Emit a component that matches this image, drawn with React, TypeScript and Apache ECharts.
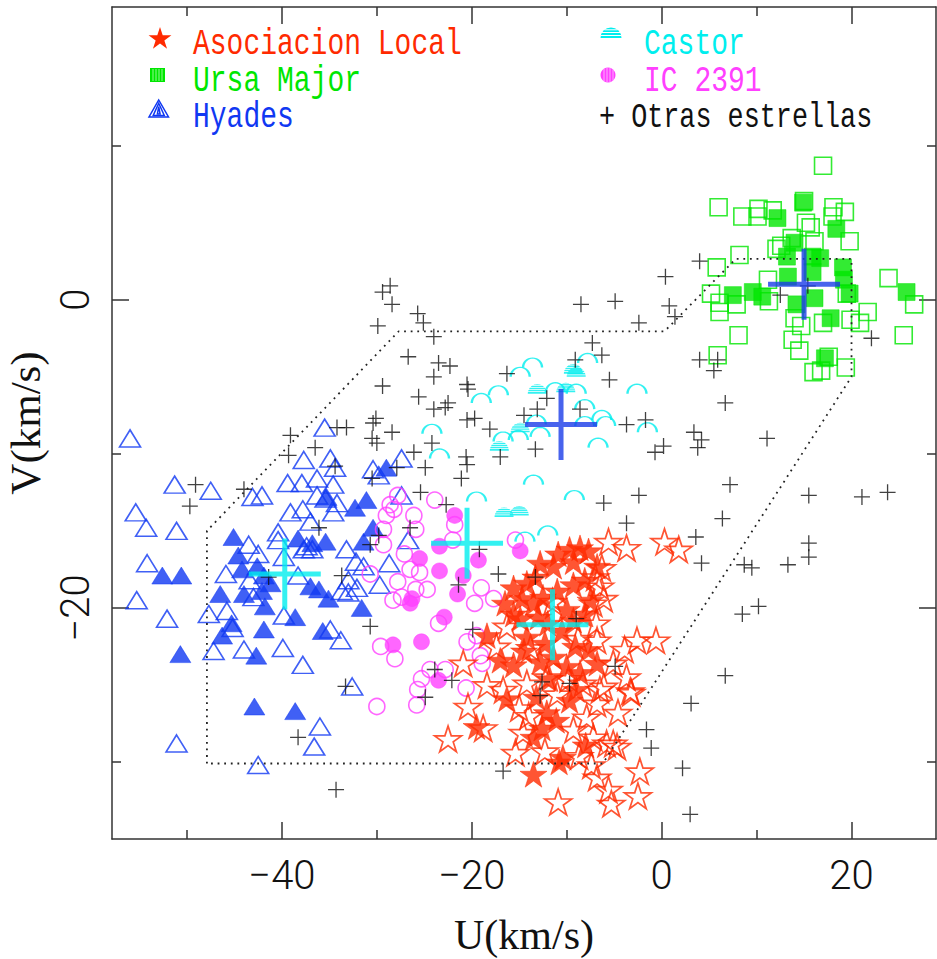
import React, { useEffect, useRef } from "react";
import * as echarts from "echarts";

// ---------- axes ----------
const uLimits = [-57.9, 28.9];
const vLimits = [-35, 19];
const uMajorTicks = [-40, -20, 0, 20];
const uMinorTicks = [-50, -30, -10, 10];
const vMajorTicks = [-20, 0];
const vMinorTicks = [-30, -10, 10];
const axisTitles = ["U(km/s)", "V(km/s)"];
const legendNames = ["Asociacion Local", "Ursa Major", "Hyades", "Castor", "IC 2391", "+ Otras estrellas"];

// ---------- data (U, V) ----------
const localFilled = [
  [-9.7, -16.2], [-8.6, -16.1], [-7.7, -16.3], [-10.9, -16.5], [-12.8, -17.1], [-11.4, -17.3], [-6.8, -17.3], [-9.3, -17.0],
  [-15.6, -18.7], [-14.2, -18.4], [-13.3, -18.0], [-14.7, -19.4], [-13.5, -19.7], [-12.5, -19.3], [-9.3, -18.5], [-8.1, -18.2],
  [-15.6, -20.4], [-14.9, -20.7], [-13.0, -20.6], [-10.0, -20.1], [-8.1, -20.4], [-18.4, -21.8], [-14.2, -21.9], [-12.3, -22.3],
  [-9.1, -22.5], [-7.7, -22.7], [-17.0, -23.4], [-15.6, -23.7], [-12.8, -23.5], [-11.4, -23.2], [-10.0, -23.8], [-8.6, -24.2],
  [-13.2, -25.8], [-9.7, -26.0], [-12.1, -26.8], [-11.1, -27.3], [-19.5, -27.7], [-13.5, -28.4], [-10.4, -29.7], [-13.5, -30.8],
  [-6.8, -23.6], [-9.3, -20.8], [-11.0, -18.9], [-10.5, -21.5], [-12.0, -21.0], [-14.5, -22.8], [-11.8, -24.6], [-16.5, -19.7],
  [-9.0, -25.3], [-12.6, -27.8], [-8.0, -28.9], [-10.8, -30.0], [-7.5, -19.5], [-16.3, -25.9]
];
const localHollow = [
  [-6.5, -18.6], [-6.1, -19.4], [-7.2, -19.7], [-16.3, -21.2], [-6.8, -22.1], [-20.9, -23.6], [-18.4, -25.0], [-16.7, -25.3],
  [-14.2, -24.9], [-20.4, -26.4], [-18.8, -27.8], [-22.5, -28.5], [-14.6, -28.1], [-8.3, -24.9], [-6.5, -25.3], [-7.9, -27.1],
  [-15.4, -29.4], [-6.8, -31.0], [-10.9, -32.6], [-12.1, -24.5], [-17.4, -22.5], [-6.8, -26.2], [-9.3, -27.9], [-7.2, -28.4],
  [-5.6, -15.7], [-3.7, -16.1], [0.3, -15.7], [1.8, -16.2], [-6.3, -17.4], [-2.6, -22.1], [-0.6, -22.1], [-3.9, -22.7],
  [-5.1, -23.6], [-3.2, -25.5], [-6.1, -25.1], [-5.1, -28.8], [-2.3, -30.6], [-2.5, -32.2], [-5.3, -32.7], [-5.6, -31.8],
  [-5.8, -28.8], [-4.7, -29.0], [-3.3, -25.4], [-3.7, -24.5], [-7.0, -18.0], [-11.5, -19.6], [-6.9, -21.0], [-13.8, -22.6],
  [-9.8, -24.6], [-11.0, -25.6], [-14.0, -27.0], [-8.7, -29.6], [-12.3, -29.3], [-7.4, -30.2], [-4.6, -26.8], [-8.8, -22.0],
  [-15.0, -26.5]
];
const ursaHollow = [
  [17.0, 8.7], [6.0, 6.0], [10.2, 5.9], [8.5, 5.4], [11.7, 5.8], [18.1, 6.0], [19.3, 5.7], [10.1, 5.4], [18.0, 5.4], [15.0, 6.4],
  [15.2, 5.0], [15.7, 4.7], [19.8, 3.8], [8.2, 2.9], [5.8, 2.1], [12.1, 3.3], [12.6, 3.5], [13.7, 4.0], [16.1, 3.8], [11.2, 1.3],
  [5.2, 0.4], [6.1, -0.2], [7.9, -0.3], [11.3, -0.1], [6.1, -0.8], [19.5, 0.4], [23.9, 1.4], [26.6, -0.3], [21.7, -0.8], [20.9, -1.5],
  [14.0, -1.2], [14.7, -1.7], [17.0, -1.5], [8.1, -2.3], [13.8, -2.6], [14.5, -3.3], [25.5, -2.3], [5.9, -3.6], [17.6, -3.7],
  [19.4, -4.4], [16.0, -4.7], [16.8, -4.6], [19.9, -1.3]
];
const ursaFilled = [
  [14.9, 6.3], [12.2, 5.3], [18.4, 4.6], [14.0, 3.7], [13.2, 2.8], [15.9, 2.8], [16.7, 2.7], [19.1, 2.1], [13.3, 1.5], [15.9, 1.8],
  [19.2, 1.3], [7.5, 0.3], [9.6, 0.5], [10.6, 0.2], [14.2, -0.3], [16.1, 0.1], [19.8, 0.4], [25.8, 0.5], [17.8, -1.2], [17.2, -3.8]
];
const hyadesHollow = [
  [-56.0, -9.0], [-51.3, -12.0], [-47.5, -12.4], [-55.4, -13.8], [-54.3, -14.8], [-51.1, -15.0], [-54.2, -17.1], [-55.3, -19.5],
  [-52.1, -20.7], [-51.1, -28.8], [-43.1, -12.8], [-42.1, -12.7], [-35.5, -8.3], [-37.7, -10.4], [-34.9, -10.3], [-39.4, -11.9],
  [-37.9, -11.9], [-36.3, -11.6], [-34.4, -10.9], [-34.6, -12.0], [-39.1, -13.8], [-37.8, -13.6], [-36.3, -12.7], [-34.6, -13.8],
  [-37.0, -14.4], [-40.4, -15.1], [-40.4, -15.6], [-43.5, -15.9], [-42.5, -16.5], [-39.8, -16.7], [-45.9, -17.8], [-43.4, -18.2],
  [-43.0, -19.3], [-38.3, -17.9], [-36.8, -16.2], [-33.2, -16.2], [-32.2, -17.0], [-31.4, -17.3], [-33.0, -18.2], [-33.0, -19.0],
  [-32.1, -18.7], [-28.7, -17.1], [-29.7, -18.5], [-47.7, -20.4], [-45.8, -20.2], [-45.2, -21.3], [-39.8, -20.5], [-34.9, -21.4],
  [-33.8, -22.1], [-47.2, -22.8], [-44.0, -22.7], [-39.9, -22.6], [-37.8, -23.7], [-32.6, -25.1], [-36.0, -27.7], [-36.6, -29.0],
  [-42.5, -30.2], [-27.4, -10.3], [-30.4, -11.0], [-29.8, -11.4], [-27.4, -12.7], [-26.7, -15.6], [-37.4, -16.0], [-35.4, -12.9],
  [-34.2, -13.2], [-33.7, -18.9], [-37.7, -16.2]
];
const hyadesFilled = [
  [-52.6, -17.9], [-50.6, -17.9], [-50.7, -23.0], [-45.1, -15.4], [-44.6, -16.6], [-44.2, -17.5], [-46.5, -19.1], [-44.0, -19.1],
  [-41.9, -17.9], [-42.1, -18.9], [-41.8, -19.9], [-45.3, -21.0], [-46.3, -21.8], [-41.9, -21.4], [-42.7, -23.1], [-38.6, -20.6],
  [-35.7, -21.5], [-38.3, -15.5], [-36.8, -15.8], [-35.4, -15.7], [-37.0, -18.6], [-36.1, -18.8], [-35.1, -19.4], [-31.6, -20.0],
  [-35.3, -12.8], [-32.3, -13.5], [-31.1, -13.0], [-30.4, -14.8], [-31.4, -15.7], [-29.0, -10.9], [-42.9, -26.4], [-38.6, -26.7],
  [-41.2, -18.4], [-42.6, -17.3]
];
const castorHollow = [
  [-13.6, -4.4], [-14.9, -5.0], [-7.8, -4.1], [-17.2, -6.2], [-19.0, -6.7], [-11.2, -6.0], [-9.0, -6.1], [-2.6, -6.1],
  [-8.1, -7.1], [-6.3, -7.8], [-5.9, -8.2], [-13.2, -8.1], [-8.1, -8.2], [-16.7, -9.2], [-15.1, -9.1], [-12.8, -8.9],
  [-24.2, -8.7], [-23.4, -10.3], [-1.5, -8.6], [-6.7, -9.6], [-13.5, -12.0], [-19.5, -13.1], [-9.2, -13.0], [-12.0, -15.3],
  [-14.4, -15.7]
];
const castorFilled = [
  [-9.3, -4.8], [-9.0, -5.0], [-13.1, -6.1], [-10.1, -6.0], [-14.9, -8.6], [-17.1, -9.8], [-16.6, -14.1], [-15.0, -14.0]
];
const icHollow = [
  [-27.8, -12.7], [-23.9, -13.0], [-28.2, -13.6], [-29.0, -14.0], [-26.1, -14.0], [-25.9, -14.9], [-29.3, -15.9], [-27.1, -16.5],
  [-22.0, -15.6], [-21.8, -14.6], [-26.5, -17.5], [-25.5, -17.7], [-30.7, -17.8], [-27.8, -18.3], [-28.3, -19.5], [-27.4, -19.3],
  [-25.9, -18.8], [-24.7, -18.8], [-19.0, -18.7], [-17.7, -19.4], [-19.7, -19.7], [-23.5, -21.0], [-29.6, -22.5], [-28.1, -23.3],
  [-20.5, -22.2], [-19.5, -21.8], [-19.1, -23.1], [-18.9, -23.6], [-24.4, -24.0], [-22.8, -24.0], [-25.3, -24.6], [-25.7, -25.3],
  [-25.8, -26.3], [-20.6, -25.2], [-30.0, -26.4], [-15.4, -15.6], [-29.3, -14.9], [-28.6, -13.3]
];
const icFilled = [
  [-21.8, -14.0], [-23.4, -16.0], [-25.5, -16.8], [-23.4, -17.6], [-19.3, -16.9], [-20.9, -17.9], [-21.5, -19.1], [-26.3, -19.4],
  [-26.5, -19.7], [-14.9, -16.3], [-22.9, -20.6], [-28.3, -22.4], [-25.3, -22.2], [-23.5, -24.7]
];
const otherStars = [
  [-28.6, 0.9], [-29.4, 0.5], [-28.4, -0.3], [-29.9, -1.7], [-25.7, -0.9], [-25.1, -1.5], [-24.0, -2.4], [-8.5, -0.3], [-4.9, -0.1],
  [0.4, 1.5], [-2.4, -1.5], [4.0, 2.5], [0.8, -0.4], [1.4, -1.1], [12.5, 0.3], [15.4, 0.9], [22.1, -2.5], [4.0, -3.9], [5.9, -3.9],
  [5.5, -4.6], [-26.7, -3.7], [-23.5, -4.1], [-22.3, -4.3], [-24.0, -5.0], [-7.3, -2.8], [-6.3, -3.6], [-9.1, -3.9], [-16.3, -4.8],
  [-5.5, -5.2], [-25.6, -6.3], [-20.5, -5.5], [-20.4, -5.8], [-22.5, -6.7], [-24.0, -7.1], [-22.8, -7.0], [-20.5, -7.8], [-19.7, -7.7],
  [-18.1, -8.4], [-12.1, -6.4], [-13.1, -7.1], [-14.5, -7.5], [-8.6, -7.1], [-3.7, -8.1], [-1.7, -7.8], [-0.7, -9.9], [0.2, -9.5],
  [-13.3, -9.7], [-17.0, -10.2], [-24.2, -9.3], [-26.1, -9.9], [-20.6, -10.2], [-20.5, -10.7], [-24.9, -10.9], [-21.1, -11.6],
  [-25.4, -12.5], [-22.7, -13.3], [-6.1, -13.2], [-2.4, -12.7], [-3.7, -14.5], [-19.2, -16.2], [-29.4, -5.6],
  [6.7, -6.7], [3.4, -8.6], [4.2, -9.1], [3.8, -9.6], [11.1, -9.0], [7.2, -12.0], [15.5, -12.7], [21.1, -12.8], [23.8, -12.5],
  [6.4, -14.2], [3.6, -15.4], [15.5, -15.8], [15.5, -16.7], [4.2, -17.1], [8.7, -17.2], [9.5, -17.4], [13.3, -17.2], [8.5, -20.4],
  [10.2, -19.9], [6.7, -24.4], [3.1, -26.2], [-1.6, -27.9], [-1.1, -29.1], [2.2, -30.4], [3.0, -33.4], [-4.9, -23.8],
  [-26.5, -14.8], [-30.7, -15.9], [-29.8, -15.3], [-17.2, -17.8], [-13.3, -18.0], [-21.4, -18.5], [-30.7, -21.2], [-19.9, -21.4],
  [-23.9, -24.0], [-22.1, -24.7], [-24.9, -25.8], [-33.3, -25.1], [-12.6, -24.8], [-9.7, -24.9], [-12.8, -25.7], [-9.0, -20.7],
  [-16.7, -30.6], [-49.1, -12.0], [-49.7, -13.4], [-44.0, -12.3], [-39.1, -8.8], [-39.3, -10.1], [-36.5, -9.6], [-34.2, -8.3],
  [-33.2, -8.3], [-30.4, -8.0], [-30.1, -7.7], [-28.4, -8.6], [-30.5, -9.0], [-30.0, -9.3], [-34.4, -10.8], [-30.5, -11.6],
  [-27.9, -10.9], [-36.1, -14.8], [-41.4, -18.0], [-33.7, -17.9], [-38.3, -28.4], [-34.3, -31.8]
];
// group means (big crosses)
const blueMeans = [[15.0, 1.0], [-10.6, -8.1]];
const cyanMeans = [[-39.7, -17.8], [-20.5, -15.8], [-11.5, -21.1]];
// dotted selection boundary
const boundary = [
  [-47.9, -30.1], [-47.9, -15.0], [-27.7, -2.05], [0.3, -2.05], [7.8, 2.65], [20.0, 2.65], [20.0, -5.0], [-6.2, -30.1], [-47.9, -30.1]
];

// ---------- styles ----------
const RED = "#ff2a00";
const GREEN = "#00e600";
const BLUE = "#1038f2";
const CYAN = "#00eeee";
const MAGENTA = "#ff40ff";
const INK = "#111111";
const AXIS = "#333333";

const STAR_PATH =
  "path://M50,0L61.23,34.55L97.55,34.55L68.17,55.9L79.39,90.45L50,69.1L20.61,90.45L31.83,55.9L2.45,34.55L38.77,34.55Z";
const PLUS_PATH = "path://M0,8H16M8,0V16";
const CROSS_PATH = "path://M0,33.5H72V38.5H0Z M33.5,0H38.5V72H33.5Z";

function arcPath(): string {
  let d = "";
  for (let i = 0; i <= 16; i++) {
    const a = Math.PI - (i * Math.PI) / 16;
    const x = 10 + 10 * Math.cos(a);
    const y = 10 - 10 * Math.sin(a);
    d += (i === 0 ? "M" : "L") + x.toFixed(2) + "," + y.toFixed(2);
  }
  return "path://" + d;
}
function domePath(): string {
  const bands = [[0, 1.7], [2.5, 4.0], [4.8, 6.3], [7.1, 8.5], [9.2, 10]];
  let d = "";
  for (const [y0, y1] of bands) {
    const left: number[][] = [];
    const right: number[][] = [];
    for (let k = 0; k <= 4; k++) {
      const y = y0 + ((y1 - y0) * k) / 4;
      const w = Math.sqrt(Math.max(0, 100 - y * y));
      left.push([10 - w, 10 - y]);
      right.push([10 + w, 10 - y]);
    }
    const pts = [...left, ...right.reverse()];
    d += "M" + pts.map((p) => p[0].toFixed(2) + "," + p[1].toFixed(2)).join("L") + "Z";
  }
  return "path://" + d;
}

const hollow = (c: string, w = 1.6) => ({ color: "rgba(0,0,0,0)", borderColor: c, borderWidth: w });
const solid = (c: string) => ({ color: c, borderColor: c, borderWidth: 0.6 });

const fmt = (v: number) => String(v).replace("-", "\u2212");
const tickFont = '"Liberation Sans Narrow", Roboto, "Liberation Sans", sans-serif';

function xAxisDef(position: string, ticks: number[], len: number, showLine: boolean, withLabels: boolean) {
  return {
    type: "value",
    position,
    min: uLimits[0],
    max: uLimits[1],
    axisLine: { show: showLine, onZero: false, lineStyle: { color: AXIS, width: 1.5 } },
    axisTick: { show: true, inside: true, length: len, customValues: ticks, lineStyle: { color: AXIS, width: 1.5 } },
    axisLabel: withLabels
      ? { show: true, customValues: uMajorTicks, formatter: fmt, margin: 16, fontSize: 40, fontWeight: 300, fontFamily: tickFont, color: INK }
      : { show: false },
    splitLine: { show: false },
    name: withLabels ? axisTitles[0] : "",
    nameLocation: "middle",
    nameGap: 78,
    nameTextStyle: { fontFamily: '"Liberation Serif", serif', fontSize: 42, lineHeight: 36, color: INK },
  };
}
function yAxisDef(position: string, ticks: number[], len: number, showLine: boolean, withLabels: boolean) {
  return {
    type: "value",
    position,
    min: vLimits[0],
    max: vLimits[1],
    axisLine: { show: showLine, onZero: false, lineStyle: { color: AXIS, width: 1.5 } },
    axisTick: { show: true, inside: true, length: len, customValues: ticks, lineStyle: { color: AXIS, width: 1.5 } },
    axisLabel: withLabels
      ? { show: true, customValues: vMajorTicks, formatter: fmt, rotate: 90, margin: 17, fontSize: 40, fontWeight: 300, fontFamily: tickFont, color: INK }
      : { show: false },
    splitLine: { show: false },
    name: withLabels ? axisTitles[1] : "",
    nameLocation: "middle",
    nameGap: 49,
    nameTextStyle: { fontFamily: '"Liberation Serif", serif', fontSize: 43, lineHeight: 40, color: INK },
  };
}

function starPoints(cx: number, cy: number, R: number) {
  const pts: number[][] = [];
  for (let i = 0; i < 10; i++) {
    const r = i % 2 === 0 ? R : R * 0.382;
    const a = -Math.PI / 2 + (i * Math.PI) / 5;
    pts.push([cx + r * Math.cos(a), cy + r * Math.sin(a)]);
  }
  return pts;
}

function legendGraphics() {
  const els: any[] = [];
  const textEl = (txt: string, x: number, y: number, color: string, size = 28) => ({
    type: "text",
    x,
    y,
    scaleY: 1.33,
    silent: true,
    style: {
      text: txt,
      fill: color,
      font: size + 'px "Liberation Mono", monospace',
      textAlign: "left",
      textVerticalAlign: "middle",
      align: "left",
      verticalAlign: "middle",
    },
  });
  // star icon
  els.push({ type: "polygon", silent: true, shape: { points: starPoints(160, 39, 12) }, style: { fill: RED } });
  // hatched square
  els.push({ type: "rect", silent: true, shape: { x: 150, y: 68, width: 15, height: 14 }, style: { fill: GREEN } });
  for (let k = 0; k < 4; k++) {
    const x = 153 + k * 3;
    els.push({ type: "line", silent: true, shape: { x1: x, y1: 69, x2: x, y2: 81 }, style: { stroke: "#b8ffb8", lineWidth: 0.8 } });
  }
  // nested triangles
  for (let k = 0; k < 3; k++) {
    const inset = k * 3;
    els.push({
      type: "polygon",
      silent: true,
      shape: { points: [[149 + inset * 1.4, 117 - inset * 0.5], [168.5 - inset * 1.4, 117 - inset * 0.5], [158.7, 100 + inset * 1.1]] },
      style: { fill: "none", stroke: BLUE, lineWidth: 1.5 },
    });
  }
  // striped dome
  els.push({
    type: "sector",
    silent: true,
    shape: { cx: 611, cy: 38, r0: 0, r: 10.5, startAngle: Math.PI, endAngle: 2 * Math.PI, clockwise: true },
    style: { fill: CYAN },
  });
  [35.5, 32.5, 29.8].forEach((y) => {
    const w = Math.sqrt(10.5 * 10.5 - (38 - y) * (38 - y));
    els.push({ type: "line", silent: true, shape: { x1: 611 - w, y1: y, x2: 611 + w, y2: y }, style: { stroke: "#ffffff", lineWidth: 1 } });
  });
  // striped circle
  els.push({ type: "circle", silent: true, shape: { cx: 608, cy: 75, r: 7.5 }, style: { fill: MAGENTA } });
  [604, 607, 610, 613].forEach((x) => {
    const h = Math.sqrt(Math.max(0, 7.5 * 7.5 - (x - 608) * (x - 608)));
    els.push({ type: "line", silent: true, shape: { x1: x, y1: 75 - h, x2: x, y2: 75 + h }, style: { stroke: "#ffc8ff", lineWidth: 0.8 } });
  });
  // labels
  els.push(textEl(legendNames[0], 193, 44, RED));
  els.push(textEl(legendNames[1], 193, 81.5, GREEN));
  els.push(textEl(legendNames[2], 193, 117.5, BLUE));
  els.push(textEl(legendNames[3], 644, 44, CYAN));
  els.push(textEl(legendNames[4], 644, 81.5, MAGENTA));
  els.push(textEl(legendNames[5], 599, 117, INK, 26.8));
  return els;
}

function buildOption() {
  const ARC = arcPath();
  const DOME = domePath();
  return {
    animation: false,
    backgroundColor: "#ffffff",
    grid: { left: 112, right: 1, top: 7, bottom: 120, containLabel: false, outerBoundsMode: "none" },
    xAxis: [
      xAxisDef("bottom", uMajorTicks, 17, true, true),
      xAxisDef("bottom", uMinorTicks, 9, false, false),
      xAxisDef("top", uMajorTicks, 17, true, false),
      xAxisDef("top", uMinorTicks, 9, false, false),
    ],
    yAxis: [
      yAxisDef("left", vMajorTicks, 17, true, true),
      yAxisDef("left", vMinorTicks, 9, false, false),
      yAxisDef("right", vMajorTicks, 17, true, false),
      yAxisDef("right", vMinorTicks, 9, false, false),
    ],
    graphic: { elements: legendGraphics() },
    series: [
      {
        type: "line",
        data: boundary,
        symbol: "none",
        silent: true,
        lineStyle: { color: "#222", width: 1.8, type: [1.8, 4.8] },
      },
      { type: "scatter", name: "Hyades", data: hyadesHollow, symbol: "triangle", symbolSize: [21, 17], itemStyle: hollow(BLUE), silent: true },
      { type: "scatter", name: "Hyades", data: hyadesFilled, symbol: "triangle", symbolSize: [21, 17], itemStyle: solid(BLUE), silent: true },
      { type: "scatter", name: "IC 2391", data: icHollow, symbol: "circle", symbolSize: 16, itemStyle: hollow(MAGENTA), silent: true },
      { type: "scatter", name: "IC 2391", data: icFilled, symbol: "circle", symbolSize: 16, itemStyle: solid(MAGENTA), silent: true },
      {
        type: "scatter", name: "Castor", data: castorHollow, symbol: ARC, symbolSize: [19, 9.5], symbolOffset: [0, -4.75],
        itemStyle: hollow(CYAN, 1.7), silent: true,
      },
      {
        type: "scatter", name: "Castor", data: castorFilled, symbol: DOME, symbolSize: [19, 9.5], symbolOffset: [0, -4.75],
        itemStyle: { color: CYAN, borderWidth: 0 }, silent: true,
      },
      { type: "scatter", name: "Ursa Major", data: ursaHollow, symbol: "rect", symbolSize: 17, itemStyle: hollow(GREEN), silent: true },
      { type: "scatter", name: "Ursa Major", data: ursaFilled, symbol: "rect", symbolSize: 17, itemStyle: solid(GREEN), silent: true },
      { type: "scatter", name: "Asociacion Local", data: localHollow, symbol: STAR_PATH, symbolSize: [27, 25.7], itemStyle: hollow(RED, 1.7), silent: true },
      { type: "scatter", name: "Asociacion Local", data: localFilled, symbol: STAR_PATH, symbolSize: [27, 25.7], itemStyle: solid(RED), silent: true },
      { type: "scatter", name: "Otras estrellas", data: otherStars, symbol: PLUS_PATH, symbolSize: 16, itemStyle: { color: "rgba(0,0,0,0)", borderColor: INK, borderWidth: 1.3 }, silent: true },
      { type: "scatter", data: cyanMeans, symbol: CROSS_PATH, symbolSize: [72, 71], itemStyle: { color: CYAN, borderWidth: 0 }, z: 5, silent: true },
      { type: "scatter", data: blueMeans, symbol: CROSS_PATH, symbolSize: [72, 71], itemStyle: { color: "#1a3ce8", borderWidth: 0 }, z: 5, silent: true },
    ],
  };
}

export default function App() {
  const ref = useRef<HTMLDivElement>(null);
  useEffect(() => {
    if (!ref.current) return;
    const chart = echarts.init(ref.current, null, { renderer: "svg" });
    chart.setOption(buildOption() as any);
    return () => {
      chart.dispose();
    };
  }, []);
  return (
    <div
      ref={ref}
      style={{ position: "absolute", left: 0, top: 0, width: 937, height: 959, background: "#ffffff" }}
    />
  );
}
